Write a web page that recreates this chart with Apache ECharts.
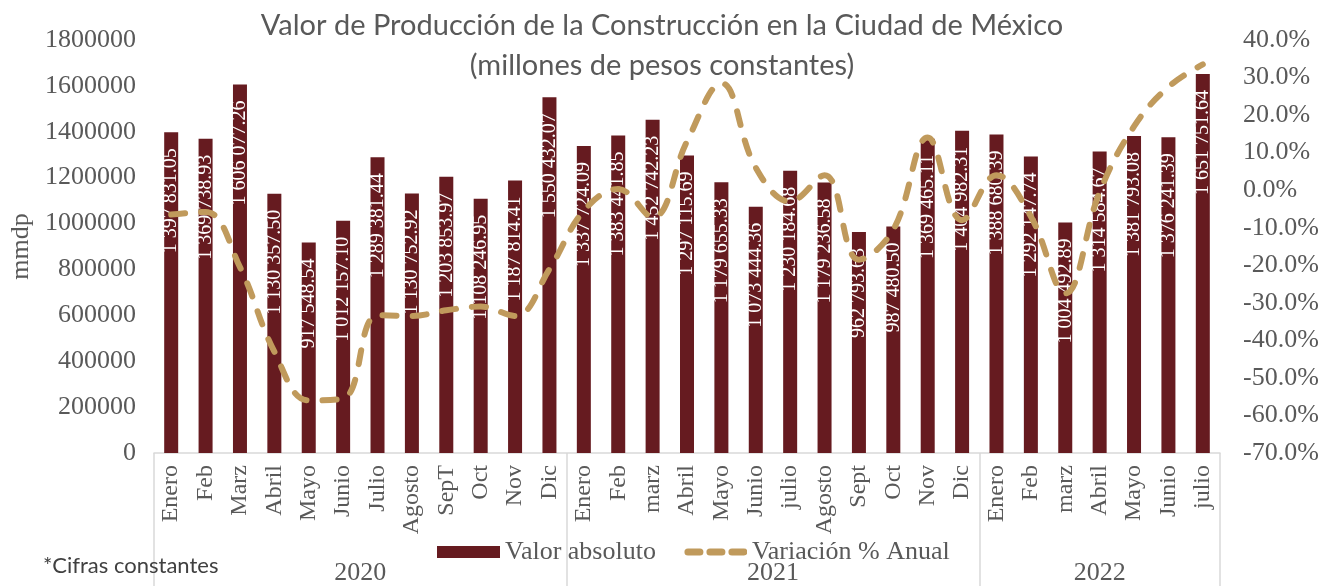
<!DOCTYPE html>
<html>
<head>
<meta charset="utf-8">
<script src="https://cdn.jsdelivr.net/npm/echarts@6.0.0/dist/echarts.min.js"></script>
<style>
  html, body { margin: 0; padding: 0; background: #fff; }
  #chart { width: 1328px; height: 586px; }
</style>
</head>
<body>
<div id="chart"></div>
<script>
// months (31 categories, grouped by year below)
var months = ['Enero','Feb','Marz','Abril','Mayo','Junio','Julio','Agosto','SepT','Oct','Nov','Dic',
              'Enero','Feb','marz','Abril','Mayo','Junio','julio','Agosto','Sept','Oct','Nov','Dic',
              'Enero','Feb','marz','Abril','Mayo','Junio','julio'];
var years = ['2020', '2021', '2022'];
var yearBounds = [0, 12, 24, 31];
var yearCenters = [6, 18, 27.5];

// Valor absoluto (mmdp)
var valorAbsoluto = [
  1397831.05, 1369738.93, 1606077.26, 1130357.50, 917548.54, 1012157.10,
  1289381.44, 1130752.92, 1203853.97, 1108246.95, 1187814.41, 1550432.07,
  1337724.09, 1383441.85, 1452742.23, 1297115.69, 1179655.33, 1073444.36,
  1230184.68, 1179236.58, 962793.63, 987480.50, 1369465.11, 1404982.31,
  1388680.39, 1292147.74, 1004492.89, 1314584.67, 1381793.08, 1376241.39, 1651751.64
];

// Variación % anual
var variacion = [
  -6.5, -5.8, -20.5, -43, -56, -55.5, -33.3, -33.5, -32, -31, -33.5, -21,
  -5.5, 0.3, -7.2, 13, 28.5, 6, -3, 4, -18.5, -10.5, 14, -8,
  4, -7, -27.5, -0.5, 17, 27.5, 33.5
];

var leftTicks = { min: 0, max: 1800000, interval: 200000 };
var rightTicks = { min: -70, max: 40, interval: 10 };

function fmt(v) {
  var parts = v.toFixed(2).split('.');
  return parts[0].replace(/\B(?=(\d{3})+(?!\d))/g, ' ') + '.' + parts[1];
}

var gray = '#595959';
var tan = '#C09A5C';
var serif = 'Liberation Serif';

// dashed legend icon
var dashSvg = "<svg xmlns='http://www.w3.org/2000/svg' width='63' height='12'>" +
  "<g stroke='" + tan + "' stroke-width='7' stroke-linecap='round'>" +
  "<line x1='4' y1='6' x2='16' y2='6'/><line x1='26' y1='6' x2='38' y2='6'/><line x1='48' y1='6' x2='60' y2='6'/>" +
  "</g></svg>";
var dashIcon = 'image://data:image/svg+xml;charset=utf-8,' + encodeURIComponent(dashSvg);

var chart = echarts.init(document.getElementById('chart'));
var option = {
  animation: false,
  title: [{
    text: 'Valor de Producción de la Construcción en la Ciudad de México\n(millones de pesos constantes)',
    left: 657,
    textAlign: 'center',
    top: 1,
    textStyle: { fontFamily: 'Lato', fontSize: 29, fontWeight: 'normal', color: gray, lineHeight: 40 }
  }, {
    text: '*Cifras constantes',
    left: 38,
    top: 550,
    textStyle: { fontFamily: 'Lato', fontSize: 22, fontWeight: 'normal', color: '#404040' }
  }],
  legend: {
    left: 432,
    top: 534,
    itemWidth: 63,
    itemHeight: 12,
    itemGap: 28,
    textStyle: { fontFamily: serif, fontSize: 26, color: gray },
    data: [
      { name: 'Valor absoluto', icon: 'rect' },
      { name: 'Variación % Anual', icon: dashIcon }
    ]
  },
  grid: { left: 153, right: 108, top: 40, bottom: 133 },
  xAxis: [{
    type: 'category',
    position: 'bottom',
    data: months,
    axisLine: { lineStyle: { color: '#d9d9d9', width: 1.5 } },
    axisTick: { show: false },
    axisLabel: { rotate: 90, interval: 0, margin: 12, fontFamily: serif, fontSize: 24, color: gray }
  }, {
    type: 'value',
    position: 'bottom',
    offset: 0,
    min: 0,
    max: 31,
    splitLine: { show: false },
    axisLine: { show: false, onZero: false },
    axisTick: { show: true, inside: false, customValues: yearBounds, length: 133, lineStyle: { color: '#d9d9d9', width: 1.5 } },
    axisLabel: {
      customValues: yearCenters,
      margin: 107,
      fontFamily: serif, fontSize: 26, color: gray,
      formatter: function (v) { return years[yearCenters.indexOf(v)]; }
    }
  }],
  yAxis: [{
    type: 'value',
    min: leftTicks.min, max: leftTicks.max, interval: leftTicks.interval,
    name: 'mmdp',
    nameLocation: 'middle',
    nameRotate: 90,
    nameGap: 120,
    nameTextStyle: { fontFamily: serif, fontSize: 26, color: gray },
    splitLine: { show: false },
    axisLine: { show: false },
    axisTick: { show: false },
    axisLabel: {
      margin: 18, fontFamily: serif, fontSize: 26, color: gray,
      formatter: function (v) { return String(v); }
    }
  }, {
    type: 'value',
    min: rightTicks.min, max: rightTicks.max, interval: rightTicks.interval,
    splitLine: { show: false },
    axisLine: { show: false },
    axisTick: { show: false },
    axisLabel: {
      margin: 23, fontFamily: serif, fontSize: 26, color: gray,
      formatter: function (v) { return v.toFixed(1) + '%'; }
    }
  }],
  series: [{
    name: 'Valor absoluto',
    type: 'bar',
    xAxisIndex: 0,
    yAxisIndex: 0,
    barWidth: 14,
    data: valorAbsoluto,
    itemStyle: { color: '#661B20' },
    label: {
      show: true,
      position: 'insideTop',
      distance: 16,
      rotate: 90,
      align: 'right',
      verticalAlign: 'middle',
      fontFamily: serif,
      fontSize: 20,
      color: '#fff',
      formatter: function (p) { return fmt(p.value); }
    }
  }, {
    name: 'Variación % Anual',
    type: 'line',
    xAxisIndex: 0,
    yAxisIndex: 1,
    z: 3,
    smooth: 0.4,
    showSymbol: false,
    symbol: 'none',
    data: variacion,
    itemStyle: { color: tan },
    lineStyle: { color: tan, width: 6, type: [14, 16], cap: 'round' }
  }]
};
chart.setOption(option);
</script>
</body>
</html>
